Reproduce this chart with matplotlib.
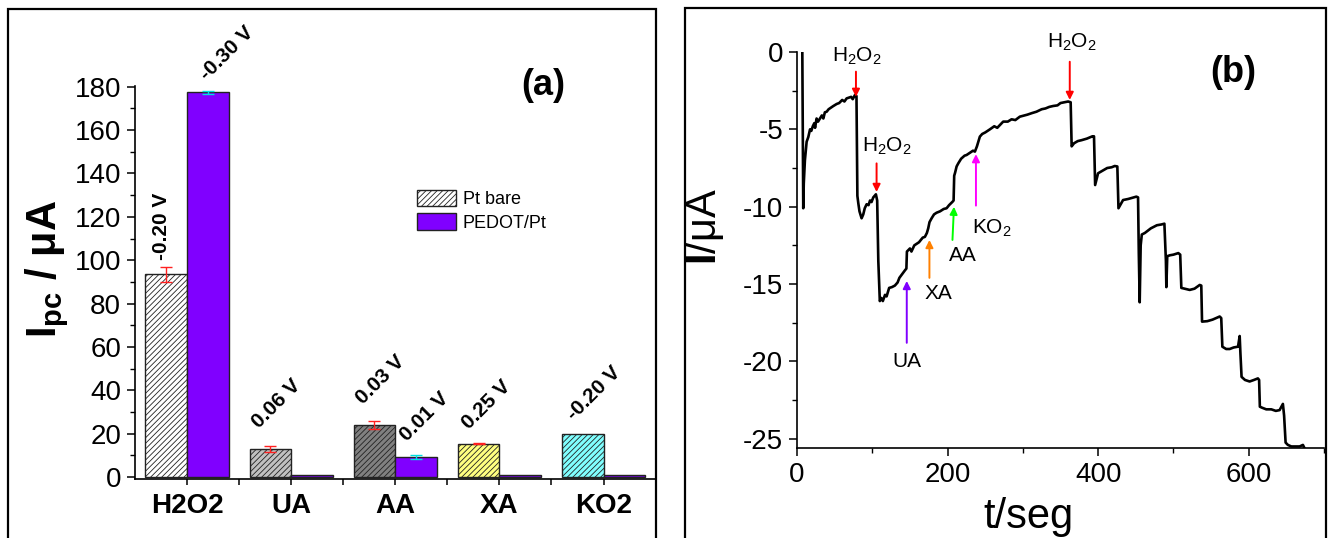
import matplotlib
matplotlib.use("Agg")
import matplotlib.pyplot as plt
from matplotlib.patches import Rectangle, Patch
from matplotlib.ticker import MultipleLocator, FixedLocator
import numpy as np

plt.rcParams['font.family'] = ['Liberation Sans', 'DejaVu Sans']
plt.rcParams['axes.unicode_minus'] = False
plt.rcParams['mathtext.fontset'] = 'custom'
plt.rcParams['mathtext.rm'] = 'Liberation Sans'
plt.rcParams['mathtext.bf'] = 'Liberation Sans:bold'
plt.rcParams['mathtext.it'] = 'Liberation Sans:italic'
plt.rcParams['hatch.linewidth'] = 0.6

# ---------------- data: panel (a) ----------------
categories = ['H2O2', 'UA', 'AA', 'XA', 'KO2']
pt_bare = [93.5, 13.0, 24.0, 15.5, 20.0]
pt_bare_err = [3.5, 1.5, 1.7, 0.3, 0.0]
pedot_pt = [177.5, 1.2, 9.2, 1.2, 1.2]
pedot_pt_err = [0.7, 0.0, 0.9, 0.0, 0.0]
pt_bare_colors = ['#ffffff', '#c0c0c0', '#808080', '#ffff80', '#80ffff']
pedot_color = '#8000ff'
potential_labels = ['-0.20 V', '-0.30 V', '0.06 V', '0.03 V', '0.01 V', '0.25 V', '-0.20 V']

# ---------------- data: panel (b) ----------------
t_seg = [7.0, 8.3, 9.0, 10.5, 12.8, 15, 17.3, 19, 21, 23, 24, 26, 28, 30.5, 33, 35, 37,
         39.4, 42, 45, 48, 52.7, 56, 60, 63, 65.9, 69, 72, 74, 77, 79, 80.2, 81.5, 83,
         85.8, 88, 90, 92.5, 95, 97, 99, 101.3, 104.8, 106.5, 108, 110, 112, 114, 116.9,
         119, 122.4, 126, 130, 133.6, 136, 139, 143.6, 145.3, 146, 148, 150, 152, 155.8,
         158.8, 162, 167, 169.9, 172.5, 174.3, 176, 178.8, 182, 185.4, 190, 194.8, 198.7,
         202, 206.6, 208, 208.8, 210, 212, 214.2, 218, 222.6, 225.2, 230, 233.8, 236.3,
         239, 242.9, 246, 250, 256.2, 262, 266, 273.9, 280, 285, 290, 296, 302, 306, 312,
         318.1, 325, 330, 335, 340.3, 346, 350, 355, 360.2, 363.5, 364.8, 368, 372.9, 378,
         385, 392.4, 394.5, 396, 399.9, 405, 412, 418, 422, 425.5, 427, 433.1, 440, 450.8,
         453, 454, 455.2, 456.5, 458, 462, 470, 478, 484, 488, 490, 490.6, 491.8, 495.4,
         500, 506.5, 509, 510.5, 515, 521.6, 528, 534.9, 537, 538, 545, 552, 561.4, 563.5,
         565, 570, 574.7, 580, 585.8, 588, 589, 590.5, 595, 601.2, 607, 612.2, 613.8,
         614.8, 618, 623.3, 630, 636, 641, 645.4, 647, 649, 652, 656.6, 662, 667.6, 672, 674]
current_uA = [0.5, -10.1, -8.5, -7.0, -5.8, -5.5, -5.0, -5.1, -4.8, -4.6, -4.9, -4.3, -4.5,
              -4.3, -4.1, -4.3, -3.9, -3.86, -3.7, -3.6, -3.5, -3.36, -3.3, -3.1, -3.2, -3.0,
              -2.95, -2.9, -3.05, -2.78, -2.85, -9.3, -9.8, -10.3, -10.75, -10.5, -10.1,
              -9.84, -9.9, -9.6, -9.7, -9.4, -9.2, -9.6, -13.5, -16.1, -15.9, -16.1, -15.7,
              -15.8, -15.25, -15.2, -15.1, -14.9, -14.6, -14.4, -14.1, -14.0, -12.9, -12.8,
              -12.7, -12.9, -12.5, -12.4, -12.3, -12.0, -11.95, -11.7, -11.4, -11.0, -10.75,
              -10.5, -10.39, -10.3, -10.15, -10.1, -9.9, -9.68, -9.6, -8.0, -7.8, -7.4, -7.2,
              -6.9, -6.7, -6.66, -6.5, -6.38, -6.44, -6.1, -5.47, -5.3, -5.2, -5.0, -4.8,
              -4.9, -4.5, -4.5, -4.35, -4.4, -4.18, -4.1, -4.05, -3.95, -3.86, -3.7, -3.65,
              -3.55, -3.49, -3.45, -3.3, -3.25, -3.2, -3.25, -6.1, -5.9, -5.76, -5.7, -5.6,
              -5.45, -5.45, -8.6, -7.84, -7.7, -7.5, -7.45, -7.37, -7.4, -10.1, -9.57, -9.5,
              -9.35, -9.4, -13.0, -16.18, -12.5, -11.8, -11.7, -11.4, -11.2, -11.15, -11.1,
              -13.5, -15.2, -13.2, -13.14, -13.1, -13.0, -13.1, -15.25, -15.3, -15.38, -15.3,
              -15.06, -15.1, -17.43, -17.4, -17.3, -17.1, -17.2, -19.05, -19.2, -19.2, -19.1,
              -19.05, -18.36, -19.5, -21.0, -21.2, -21.3, -21.2, -21.1, -21.2, -22.93, -23.0,
              -23.1, -23.1, -23.2, -23.15, -22.75, -23.5, -25.25, -25.4, -25.5, -25.5, -25.5,
              -25.4, -25.6]

# annotations (b): label, text (t, I), arrow tail (t, I), arrow head (t, I), colour
b_labels = [r'H$_2$O$_2$', r'H$_2$O$_2$', r'H$_2$O$_2$', 'UA', 'XA', 'AA', r'KO$_2$']
b_text_pos = [(79.6, -0.3), (119.0, -6.1), (364.5, 0.65), (145.8, -20.0), (187.6, -15.6),
              (219.8, -13.15), (258.8, -11.4)]
b_arrow_tail = [(78.3, -1.27), (105.7, -7.2), (362.3, -0.63), (145.8, -18.8), (175.9, -14.6),
                (206.5, -12.15), (237.7, -9.93)]
b_arrow_head = [(78.3, -2.9), (105.7, -9.05), (362.3, -3.1), (145.8, -14.8), (175.9, -12.15),
                (208.5, -10.0), (237.7, -6.6)]
b_arrow_colors = ['#ff0000', '#ff0000', '#ff0000', '#8000ff', '#ff8000', '#00ff00', '#ff00ff']

# ---------------- figure ----------------
W, H = 1329, 538
fig = plt.figure(figsize=(W / 100, H / 100), dpi=100)

def fx(px):
    return px / W

def fy(py):
    return 1 - py / H

# panel frames
fig.add_artist(Rectangle((fx(7.5), fy(560)), fx(656) - fx(7.5), fy(8.5) - fy(560),
                         fill=False, lw=1.6, ec='black', transform=fig.transFigure))
fig.add_artist(Rectangle((fx(685), fy(560)), fx(1326) - fx(685), fy(8) - fy(560),
                         fill=False, lw=1.6, ec='black', transform=fig.transFigure))

# ---------------- panel (a) ----------------
axa = fig.add_axes([fx(135), fy(478.7), fx(655.6) - fx(135), (478.7 - 85.6) / H])
x = np.arange(len(categories))
bw = 0.4
for i in range(len(categories)):
    axa.bar(x[i] - bw / 2, pt_bare[i], width=bw, color=pt_bare_colors[i], edgecolor='#222222',
            hatch='//////', lw=1.0, zorder=2)
axa.bar(x + bw / 2, pedot_pt, width=bw, color=pedot_color, edgecolor='#222222', lw=1.0, zorder=2)
for i in range(len(categories)):
    if pt_bare_err[i] > 0:
        axa.errorbar(x[i] - bw / 2, pt_bare[i], yerr=pt_bare_err[i], fmt='none',
                     ecolor='#ff2020', elinewidth=1.0, capsize=4, capthick=1.0, zorder=3)
    if pedot_pt_err[i] > 0:
        axa.errorbar(x[i] + bw / 2, pedot_pt[i], yerr=pedot_pt_err[i], fmt='none',
                     ecolor='#00e0e0', elinewidth=1.0, capsize=4, capthick=1.0, zorder=3)

axa.set_xlim(-0.5, 4.5)
axa.set_ylim(-0.7, 180.5)
axa.spines['top'].set_visible(False)
axa.spines['right'].set_visible(False)
for s in ('left', 'bottom'):
    axa.spines[s].set_linewidth(1.2)
axa.yaxis.set_major_locator(MultipleLocator(20))
axa.yaxis.set_minor_locator(MultipleLocator(10))
axa.set_xticks(x)
axa.set_xticklabels(categories, fontsize=20, fontweight='bold')
axa.xaxis.set_minor_locator(FixedLocator([0.5, 1.5, 2.5, 3.5]))
axa.tick_params(axis='y', which='major', labelsize=20, length=6, width=1.1, direction='out', pad=4)
axa.tick_params(axis='y', which='minor', length=3.5, width=1.0, direction='out')
axa.tick_params(axis='x', which='both', length=4, width=1.1, direction='out', pad=6)
axa.set_ylabel(r'I$_\mathbf{pc}$ / μA', fontsize=30, fontweight='bold')
axa.yaxis.set_label_coords(-0.122, 0.535)

# potential labels
pot_pos = [(-0.242, 115.5, 90), (0.382, 195.4, 45), (0.862, 34.0, 45), (1.858, 45.1, 45),
           (2.277, 27.7, 45), (2.871, 33.5, 45), (3.909, 38.8, 45)]
for lab, (px_, py_, rot) in zip(potential_labels, pot_pos):
    axa.text(px_, py_, lab, rotation=rot, fontsize=15, fontweight='bold', ha='center',
             va='center', rotation_mode='anchor', clip_on=False)

axa.text(3.42, 180.7, '(a)', fontsize=26, fontweight='bold', ha='center', va='center')

handles = [Patch(facecolor='white', edgecolor='#222222', hatch='//////', lw=1.0),
           Patch(facecolor=pedot_color, edgecolor='#222222', lw=1.0)]
axa.legend(handles, ['Pt bare', 'PEDOT/Pt'], loc='upper left', bbox_to_anchor=(0.541, 0.735),
           frameon=False, fontsize=13, handlelength=2.2, handleheight=1.0, handletextpad=0.35,
           labelspacing=0.3, borderpad=0, borderaxespad=0)

# ---------------- panel (b) ----------------
axb = fig.add_axes([fx(797), fy(447.7), fx(1324) - fx(797), (447.7 - 52) / H])
axb.plot(t_seg, current_uA, color='black', lw=1.9, solid_joinstyle='round')
axb.set_xlim(0, 700)
axb.set_ylim(-25.58, 0)
axb.spines['top'].set_visible(False)
axb.spines['right'].set_visible(False)
for s in ('left', 'bottom'):
    axb.spines[s].set_linewidth(1.2)
axb.xaxis.set_major_locator(MultipleLocator(200))
axb.xaxis.set_minor_locator(MultipleLocator(100))
axb.yaxis.set_major_locator(MultipleLocator(5))
axb.yaxis.set_minor_locator(MultipleLocator(2.5))
axb.tick_params(which='major', labelsize=20, length=6, width=1.1, direction='out', pad=4)
axb.tick_params(which='minor', length=3.5, width=1.0, direction='out')
axb.set_xlabel('t/seg', fontsize=30)
axb.xaxis.set_label_coords(0.44, -0.125)
axb.set_ylabel(r'$\mathbf{I}$/μA', fontsize=30)
axb.yaxis.set_label_coords(-0.135, 0.558)

for lab, tp, tail, head, col in zip(b_labels, b_text_pos, b_arrow_tail, b_arrow_head, b_arrow_colors):
    axb.annotate('', xy=head, xytext=tail,
                 arrowprops=dict(arrowstyle='-|>', color=col, lw=1.4, mutation_scale=11,
                                 shrinkA=0, shrinkB=0))
    axb.text(tp[0], tp[1], lab, fontsize=15, ha='center', va='center', clip_on=False)

axb.text(580, -1.3, '(b)', fontsize=26, fontweight='bold', ha='center', va='center')

fig.savefig('out.png', dpi=100)
